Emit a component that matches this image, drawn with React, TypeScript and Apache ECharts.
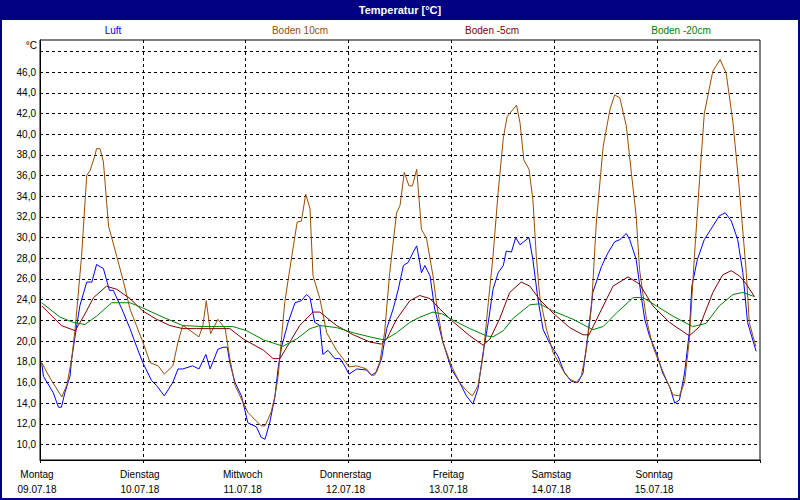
import React, { useEffect, useRef } from "react";
import * as echarts from "echarts";

const dayNames = ["Montag", "Dienstag", "Mittwoch", "Donnerstag", "Freitag", "Samstag", "Sonntag"];
const dayDates = ["09.07.18", "10.07.18", "11.07.18", "12.07.18", "13.07.18", "14.07.18", "15.07.18"];
const yGridValues = [10, 12, 14, 16, 18, 20, 22, 24, 26, 28, 30, 32, 34, 36, 38, 40, 42, 44, 46, 48];
const yLabelValues = [10, 12, 14, 16, 18, 20, 22, 24, 26, 28, 30, 32, 34, 36, 38, 40, 42, 44, 46];
const seriesNames = ["Luft", "Boden 10cm", "Boden -5cm", "Boden -20cm"];

// [hour since 09.07.18 00:00, °C]
const luft = [
  [0.4, 17.9], [0.8, 16.6], [3.1, 15.0], [4.3, 13.6], [5.0, 13.6], [5.8, 15.0], [7.0, 16.6], [7.4, 18.3],
  [8.2, 20.5], [9.3, 23.4], [10.9, 25.7], [12.1, 25.7], [13.2, 27.4], [14.8, 27.0], [16.2, 24.9], [17.1, 24.9],
  [19.1, 23.1], [21.0, 21.2], [22.5, 19.5], [24.0, 17.9], [26.0, 16.2], [27.2, 15.7], [29.0, 14.7], [31.0, 16.0],
  [32.2, 17.3], [33.3, 17.3], [35.6, 17.6], [37.1, 17.3], [38.7, 18.7], [39.7, 17.3], [41.5, 19.2], [42.7, 19.4],
  [43.7, 19.4], [44.3, 17.9], [45.5, 16.0], [47.0, 14.7], [48.5, 12.1], [50.5, 11.7], [51.6, 10.7], [52.5, 10.5],
  [53.6, 12.1], [54.8, 14.6], [55.6, 17.5], [56.4, 19.5], [57.9, 21.8], [59.5, 23.7], [61.0, 23.9], [62.2, 24.5],
  [63.0, 24.2], [64.1, 21.8], [65.3, 21.5], [66.0, 18.7], [67.2, 19.1], [68.8, 18.3], [70.0, 18.3], [71.1, 17.6],
  [72.1, 16.8], [73.9, 17.3], [76.2, 17.2], [77.3, 16.7], [78.5, 17.0], [79.7, 18.3], [80.9, 21.2], [82.4, 23.1],
  [83.6, 25.0], [84.8, 27.3], [85.9, 27.6], [87.1, 28.6], [87.9, 29.2], [88.6, 27.6], [89.0, 26.6], [89.8, 27.3],
  [91.0, 26.3], [92.1, 23.1], [94.0, 19.9], [96.0, 17.3], [97.9, 16.0], [99.5, 14.7], [101.0, 13.9], [102.2, 15.4],
  [103.4, 18.9], [104.6, 21.8], [105.7, 25.0], [106.9, 26.6], [108.1, 27.3], [108.8, 28.7], [110.0, 28.6], [111.0, 30.0],
  [112.0, 29.3], [114.1, 30.0], [115.0, 27.9], [116.2, 24.0], [117.4, 21.1], [118.9, 19.8], [120.9, 18.5], [122.4, 16.9],
  [124.0, 16.1], [125.5, 16.0], [126.7, 16.9], [127.9, 20.8], [129.0, 24.7], [131.0, 27.2], [132.5, 28.5], [134.1, 29.6],
  [135.3, 29.8], [136.8, 30.4], [137.6, 29.8], [139.1, 27.9], [140.3, 24.3], [141.1, 22.1], [142.2, 20.5], [143.8, 18.9],
  [145.3, 16.9], [146.9, 15.6], [148.1, 14.0], [149.2, 14.3], [150.4, 16.9], [151.5, 20.8], [152.1, 25.3], [153.4, 27.9],
  [155.0, 29.8], [157.0, 31.1], [158.5, 32.1], [159.9, 32.4], [161.3, 31.6], [162.8, 29.8], [164.0, 26.6], [165.1, 21.8],
  [167.1, 19.0]
];

const boden10 = [
  [0.4, 17.9], [2.5, 16.3], [5.1, 14.6], [6.3, 15.8], [7.4, 18.3], [8.2, 21.2], [9.7, 28.2], [10.9, 36.0], [11.7, 36.5],
  [12.8, 37.9], [13.2, 38.6], [14.0, 38.6], [14.8, 37.3], [16.0, 31.1], [17.9, 28.2], [19.5, 25.7], [21.0, 23.1],
  [22.5, 21.5], [24.0, 19.9], [25.7, 17.9], [27.6, 17.6], [29.0, 16.8], [31.0, 17.6], [32.2, 19.9], [33.3, 21.5],
  [34.4, 21.2], [37.1, 20.4], [38.0, 21.5], [38.8, 23.9], [39.8, 20.7], [41.5, 22.1], [43.2, 21.2], [44.3, 18.3],
  [45.5, 15.7], [48.5, 13.1], [51.6, 11.8], [52.5, 11.8], [53.9, 13.1], [54.8, 14.6], [55.6, 16.7], [56.4, 20.5],
  [57.1, 23.7], [58.3, 27.0], [60.0, 31.5], [61.0, 31.6], [62.0, 34.2], [63.0, 32.8], [63.7, 26.3], [65.3, 24.1],
  [66.9, 20.8], [69.2, 19.1], [70.7, 18.3], [72.1, 17.5], [73.9, 17.6], [76.2, 17.3], [77.3, 16.7], [78.1, 16.7],
  [79.3, 18.0], [80.4, 20.8], [81.6, 26.6], [83.2, 32.4], [84.0, 33.1], [85.0, 36.3], [86.1, 35.0], [86.9, 35.0],
  [87.9, 36.6], [89.0, 30.8], [90.2, 29.9], [91.7, 26.3], [92.5, 23.7], [94.0, 19.9], [96.0, 17.6], [97.9, 16.0],
  [99.5, 15.2], [100.9, 14.7], [102.2, 15.7], [103.4, 18.6], [104.6, 23.7], [105.7, 28.2], [106.9, 34.4], [108.1, 39.6],
  [109.0, 41.7], [111.2, 42.8], [112.0, 41.1], [112.9, 37.5], [114.1, 36.6], [115.0, 33.7], [115.8, 28.2], [116.6, 24.3],
  [118.2, 21.1], [119.7, 18.9], [122.0, 17.2], [123.6, 16.3], [125.2, 16.0], [126.3, 16.6], [127.5, 19.2], [128.7, 23.4],
  [129.8, 31.4], [131.4, 38.8], [133.0, 42.4], [134.1, 43.8], [135.3, 43.5], [136.8, 40.8], [138.0, 36.2], [139.1, 32.1],
  [139.9, 26.9], [141.5, 22.1], [143.0, 19.5], [144.2, 18.2], [146.1, 16.3], [147.7, 14.8], [149.2, 14.7], [150.4, 16.0],
  [151.5, 20.1], [152.7, 28.2], [153.9, 35.6], [155.0, 42.0], [157.0, 46.1], [158.7, 47.2], [160.1, 45.9], [161.7, 41.1],
  [163.2, 34.6], [164.8, 26.6], [165.5, 21.8], [167.0, 19.5]
];

const bodenMinus5 = [
  [0.4, 23.4], [1.6, 22.9], [5.0, 21.5], [8.2, 21.0], [10.2, 22.4], [12.5, 24.2], [15.5, 25.3], [17.9, 25.0],
  [21.0, 24.1], [24.0, 22.9], [27.2, 22.1], [30.3, 21.5], [33.3, 21.2], [36.5, 21.2], [39.7, 21.2], [44.3, 21.2],
  [47.4, 20.2], [52.2, 19.1], [54.4, 18.3], [56.0, 18.3], [58.3, 19.9], [60.6, 21.5], [63.7, 22.8], [65.3, 22.8],
  [69.2, 21.5], [73.1, 20.6], [77.0, 19.9], [79.7, 19.7], [80.9, 20.2], [83.2, 22.1], [86.3, 23.9], [88.6, 24.4],
  [91.0, 24.1], [93.3, 23.1], [96.0, 22.0], [100.3, 20.5], [103.4, 19.6], [105.0, 20.2], [107.3, 22.2], [109.6, 24.7],
  [112.3, 25.7], [114.3, 25.3], [116.6, 24.0], [119.7, 22.7], [123.6, 21.3], [126.7, 20.6], [128.1, 20.6], [130.6, 22.7],
  [133.7, 25.3], [137.2, 26.2], [139.9, 25.5], [143.0, 23.4], [146.9, 21.8], [151.5, 20.5], [153.9, 21.4], [157.0, 24.7],
  [159.3, 26.4], [161.3, 26.8], [163.2, 26.3], [164.8, 25.5], [166.7, 24.3]
];

const bodenMinus20 = [
  [0.4, 23.7], [4.7, 22.3], [7.8, 21.8], [10.5, 21.6], [13.2, 22.4], [16.7, 23.7], [21.0, 23.7], [24.0, 23.2],
  [28.7, 22.3], [33.3, 21.5], [38.0, 21.4], [45.0, 21.4], [48.2, 21.0], [52.2, 20.1], [56.7, 19.5], [59.9, 20.2],
  [63.0, 21.2], [65.3, 21.5], [69.2, 21.3], [73.1, 20.8], [77.0, 20.4], [80.4, 20.1], [83.2, 20.8], [86.3, 21.8],
  [88.6, 22.3], [91.7, 22.8], [94.0, 22.6], [96.0, 22.1], [100.3, 21.2], [104.2, 20.5], [105.7, 20.4], [108.1, 21.0],
  [110.4, 22.2], [114.3, 23.5], [116.6, 23.6], [119.7, 22.9], [124.4, 22.1], [129.0, 21.1], [131.4, 21.4], [134.5, 22.7],
  [138.4, 24.2], [140.7, 24.2], [143.8, 23.4], [147.7, 22.4], [152.3, 21.4], [155.4, 21.7], [158.5, 23.4], [161.7, 24.5],
  [164.0, 24.7], [166.7, 24.3]
];

const colors = ["#0000ff", "#9a4c00", "#800000", "#008000"];
const FONT = '"Liberation Sans", Arial, sans-serif';

export default function App() {
  const ref = useRef<HTMLDivElement>(null);

  useEffect(() => {
    document.body.style.margin = "0";
    const chart = echarts.init(ref.current!, null, { renderer: "svg" });
    const dash = { color: "#000", width: 1, type: [3, 3] as any };
    const legendX = [113, 300, 492, 681];
    const seriesData = [luft, boden10, bodenMinus5, bodenMinus20];

    chart.setOption({
      animation: false,
      backgroundColor: "#ffffff",
      grid: {
        left: 40, right: 40, top: 40, bottom: 40,
        show: true, borderColor: "#000", borderWidth: 1, backgroundColor: "#ffffff"
      },
      xAxis: {
        type: "value", min: 0, max: 168, interval: 24,
        axisLine: { show: true, lineStyle: { color: "#000", width: 1 } },
        axisTick: { show: true, length: 3, lineStyle: { color: "#000" } },
        splitLine: { show: true, showMinLine: false, showMaxLine: false, lineStyle: dash },
        axisLabel: {
          margin: 7, lineHeight: 15, color: "#000", fontSize: 10, fontFamily: FONT, padding: [0, 6, 0, 0],
          formatter: (v: number) => {
            const i = Math.round(v / 24);
            return i < dayNames.length ? `${dayNames[i]}\n${dayDates[i]}` : "";
          }
        }
      },
      yAxis: {
        type: "value", min: 8.5, max: 49.1,
        axisLine: { show: true, lineStyle: { color: "#000", width: 1 } },
        axisTick: { show: false, customValues: yGridValues },
        splitLine: { show: true, lineStyle: dash },
        axisLabel: {
          customValues: yLabelValues, margin: 4, color: "#000", fontSize: 10, fontFamily: FONT,
          formatter: (v: number) => v.toFixed(1).replace(".", ",")
        }
      },
      series: seriesNames.map((name, i) => ({
        name, type: "line", data: seriesData[i], showSymbol: false, symbol: "none",
        lineStyle: { color: colors[i], width: 1 }, itemStyle: { color: colors[i] }
      })),
      graphic: [
        { type: "rect", shape: { x: 0, y: 0, width: 800, height: 20 }, style: { fill: "#000080" }, silent: true },
        { type: "rect", shape: { x: 0, y: 0, width: 2, height: 500 }, style: { fill: "#000080" }, silent: true },
        { type: "rect", shape: { x: 798, y: 0, width: 2, height: 500 }, style: { fill: "#000080" }, silent: true },
        { type: "rect", shape: { x: 0, y: 498, width: 800, height: 2 }, style: { fill: "#000080" }, silent: true },
        {
          type: "text", x: 400, y: 10,
          style: { text: "Temperatur [°C]", fill: "#fff", font: `bold 11px ${FONT}`, align: "center", verticalAlign: "middle" }
        },
        ...seriesNames.map((name, i) => ({
          type: "text", x: legendX[i], y: 30,
          style: { text: name, fill: colors[i], font: `10px ${FONT}`, align: "center", verticalAlign: "middle" }
        })),
        {
          type: "text", x: 37, y: 45,
          style: { text: "°C", fill: "#000", font: `10px ${FONT}`, align: "right", verticalAlign: "middle" }
        }
      ]
    });
    return () => chart.dispose();
  }, []);

  return <div ref={ref} style={{ position: "absolute", left: 0, top: 0, width: 800, height: 500 }} />;
}
